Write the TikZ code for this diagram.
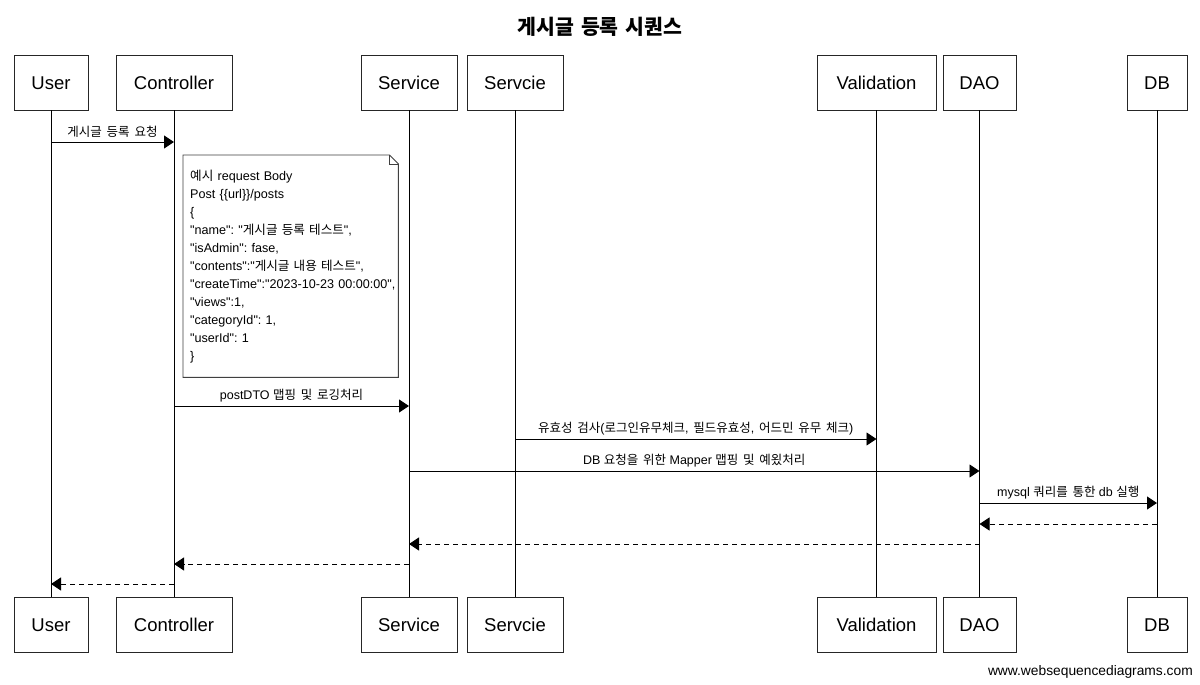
\documentclass[tikz,border=0pt]{standalone}
\usepackage{fontspec}
\setmainfont{Liberation Sans}
\newfontfamily\lat{Liberation Sans}
\newfontfamily\kr[Scale=1.0,WordSpace=1.7]{Noto Sans CJK KR}
\newfontfamily\krtitle[WordSpace=1.5]{Noto Sans CJK KR}
\usetikzlibrary{arrows.meta,calc}
\frenchspacing
\tikzset{
  pbox/.style={draw=black!85, fill=white, line width=0.9pt, minimum height=55pt, inner sep=0pt, text height=13.3pt, text depth=0pt, font=\fontsize{18.5}{22}\selectfont},
  life/.style={draw=black, line width=0.9pt},
  msg/.style={draw=black, line width=0.9pt, -{Triangle[length=10pt,width=13pt]}},
  ret/.style={msg, dash pattern=on 5pt off 4pt},
  mlabel/.style={anchor=south, inner sep=0pt, font=\fontsize{12.5}{14}\selectfont},
  notebox/.style={minimum width=215pt, minimum height=222pt, inner sep=0pt},
  notetxt/.style={anchor=west, inner sep=0pt, text width=240pt, align=left, font=\lat\fontsize{12.6}{18}\selectfont},
  noteline/.style={draw=black!75, line width=0.9pt}
}
\begin{document}
\begin{tikzpicture}[x=1pt,y=-1pt]
\path[fill=white] (0,0) rectangle (1200,685);
\useasboundingbox (0,0) rectangle (1200,685);

\node[font=\krtitle\bfseries\fontsize{20.5}{24}\selectfont] (title) at (600,27) {게시글 등록 시퀀스};

% participants top
\node[pbox, minimum width=74pt]  (userT) at (51,82.5) {User};
\node[pbox, minimum width=116pt] (ctrlT) at (174,82.5) {Controller};
\node[pbox, minimum width=96pt]  (svcT)  at (409,82.5) {Service};
\node[pbox, minimum width=96pt]  (svc2T) at (515,82.5) {Servcie};
\node[pbox, minimum width=119pt] (valT)  at (876.5,82.5) {Validation};
\node[pbox, minimum width=73pt]  (daoT)  at (979.5,82.5) {DAO};
\node[pbox, minimum width=60pt]  (dbT)   at (1157,82.5) {DB};
% participants bottom
\node[pbox, minimum width=74pt]  (userB) at (51,625) {User};
\node[pbox, minimum width=116pt] (ctrlB) at (174,625) {Controller};
\node[pbox, minimum width=96pt]  (svcB)  at (409,625) {Service};
\node[pbox, minimum width=96pt]  (svc2B) at (515,625) {Servcie};
\node[pbox, minimum width=119pt] (valB)  at (876.5,625) {Validation};
\node[pbox, minimum width=73pt]  (daoB)  at (979.5,625) {DAO};
\node[pbox, minimum width=60pt]  (dbB)   at (1157,625) {DB};

% lifelines
\draw[life] (userT.south) -- (userB.north);
\draw[life] (ctrlT.south) -- (ctrlB.north);
\draw[life] (svcT.south) -- (svcB.north);
\draw[life] (svc2T.south) -- (svc2B.north);
\draw[life] (valT.south) -- (valB.north);
\draw[life] (daoT.south) -- (daoB.north);
\draw[life] (dbT.south) -- (dbB.north);

% message 1
\coordinate (m1a) at (userT |- 0,142);
\coordinate (m1b) at (ctrlT |- 0,142);
\draw[msg] (m1a) -- (m1b);
\node[mlabel] (l1) at ($(m1a)!0.5!(m1b)+(0,-4)$) {\kr 게시글 등록 요청};

% note
\node[notebox, anchor=north west] (note) at (183,155) {};
\node[notetxt] (notetext) at ([xshift=7pt]note.west) {%
{\kr 예시} request Body\\
Post \{\{url\}\}/posts\\
\{\\
"name": "{\kr 게시글 등록 테스트}",\\
"isAdmin": fase,\\
"contents":"{\kr 게시글 내용 테스트}",\\
"createTime":"2023-10-23 00:00:00",\\
"views":1,\\
"categoryId": 1,\\
"userId": 1\\
\}};
\draw[noteline] (note.north west) -- ([xshift=-9pt]note.north east) -- ([yshift=-9pt]note.north east) -- (note.south east) -- (note.south west) -- cycle;
\draw[noteline] ([xshift=-9pt]note.north east) -- ([xshift=-9pt,yshift=-9pt]note.north east) -- ([yshift=-9pt]note.north east);

% message 2
\coordinate (m2a) at (ctrlT |- 0,406);
\coordinate (m2b) at (svcT |- 0,406);
\draw[msg] (m2a) -- (m2b);
\node[mlabel] (l2) at ($(m2a)!0.5!(m2b)+(0,-4)$) {postDTO {\kr 맵핑 및 로깅처리}};

% message 3
\coordinate (m3a) at (svc2T |- 0,439);
\coordinate (m3b) at (valT |- 0,439);
\draw[msg] (m3a) -- (m3b);
\node[mlabel] (l3) at ($(m3a)!0.5!(m3b)+(0,-4)$) {{\kr 유효성 검사}({\kr 로그인유무체크},{\kr\ 필드유효성},{\kr\ 어드민 유무 체크})};

% message 4
\coordinate (m4a) at (svcT |- 0,471);
\coordinate (m4b) at (daoT |- 0,471);
\draw[msg] (m4a) -- (m4b);
\node[mlabel] (l4) at ($(m4a)!0.5!(m4b)+(0,-4)$) {DB {\kr 요청을 위한} Mapper {\kr 맵핑 및 예^^^^c68c처리}};

% message 5
\coordinate (m5a) at (daoT |- 0,503);
\coordinate (m5b) at (dbT |- 0,503);
\draw[msg] (m5a) -- (m5b);
\node[mlabel] (l5) at ($(m5a)!0.5!(m5b)+(0,-4)$) {mysql {\kr 쿼리를 통한} db {\kr 실행}};

% returns
\coordinate (r1a) at (dbT |- 0,524);
\coordinate (r1b) at (daoT |- 0,524);
\draw[ret] (r1a) -- (r1b);
\coordinate (r2a) at (daoT |- 0,544);
\coordinate (r2b) at (svcT |- 0,544);
\draw[ret] (r2a) -- (r2b);
\coordinate (r3a) at (svcT |- 0,564);
\coordinate (r3b) at (ctrlT |- 0,564);
\draw[ret] (r3a) -- (r3b);
\coordinate (r4a) at (ctrlT |- 0,584);
\coordinate (r4b) at (userT |- 0,584);
\draw[ret] (r4a) -- (r4b);

% footer
\node[anchor=east, inner sep=0pt, font=\fontsize{13.8}{16}\selectfont] (footer) at (1193,672) {www.websequencediagrams.com};
\end{tikzpicture}
\end{document}
